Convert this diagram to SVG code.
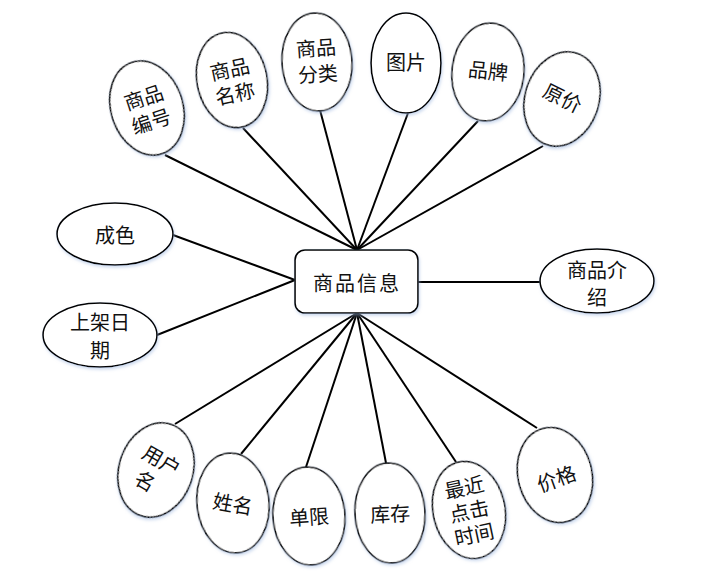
<svg xmlns="http://www.w3.org/2000/svg" width="714" height="584" viewBox="0 0 714 584">
<defs>
<filter id="sh" x="-20%" y="-20%" width="140%" height="140%">
<feDropShadow dx="1" dy="2" stdDeviation="1.5" flood-color="#9fb8e0" flood-opacity="0.5"/>
</filter>
</defs>
<style>
.e{fill:#fff;stroke:#000;stroke-width:1.6;filter:url(#sh)}
.t{font-family:"Noto Sans CJK SC","Noto Sans",sans-serif;font-size:20px;fill:#111;text-anchor:middle;dominant-baseline:central}
.c line{stroke:#000;stroke-width:2}
</style>
<rect width="714" height="584" fill="#fff"/>
<g id="connectors" class="c">
<line x1="165" y1="155" x2="357" y2="250"/>
<line x1="243" y1="128" x2="357" y2="250"/>
<line x1="320" y1="110" x2="357" y2="250"/>
<line x1="408" y1="113" x2="357" y2="250"/>
<line x1="478" y1="121" x2="357" y2="250"/>
<line x1="543" y1="146" x2="357" y2="250"/>
<line x1="173" y1="235" x2="295" y2="280"/>
<line x1="157" y1="335" x2="295" y2="280"/>
<line x1="418" y1="282" x2="540" y2="282"/>
<line x1="175" y1="424" x2="357" y2="313"/>
<line x1="241" y1="454" x2="357" y2="313"/>
<line x1="306" y1="467" x2="357" y2="313"/>
<line x1="386" y1="463" x2="357" y2="313"/>
<line x1="456" y1="462" x2="357" y2="313"/>
<line x1="537" y1="428" x2="357" y2="313"/>
</g>
<g id="center">
<rect x="295" y="250" width="123" height="63" rx="10" class="e"/>
<text x="357" y="282" class="t" letter-spacing="2">商品信息</text>
</g>
<g id="n_bianhao" transform="translate(147,108) rotate(-18)">
<ellipse rx="36" ry="48" class="e"/>
<text y="-12" class="t">商品</text><text y="13" class="t">编号</text>
</g>
<g id="n_mingcheng" transform="translate(232,80) rotate(-12)">
<ellipse rx="35" ry="48" class="e"/>
<text y="-12" class="t">商品</text><text y="13" class="t">名称</text>
</g>
<g id="n_fenlei" transform="translate(317,62) rotate(-4)">
<ellipse rx="35" ry="49" class="e"/>
<text y="-15" class="t">商品</text><text y="11" class="t">分类</text>
</g>
<g id="n_tupian" transform="translate(406,63)">
<ellipse rx="35" ry="50" class="e"/>
<text y="-2" class="t">图片</text>
</g>
<g id="n_pinpai" transform="translate(488,72) rotate(6)">
<ellipse rx="36" ry="49" class="e"/>
<text y="-2" class="t">品牌</text>
</g>
<g id="n_yuanjia" transform="translate(562,99) rotate(18)">
<ellipse rx="37" ry="48" class="e"/>
<text y="-2" class="t" transform="rotate(8)">原价</text>
</g>
<g id="n_chengse" transform="translate(115,234)">
<ellipse rx="58" ry="31" class="e"/>
<text y="0" class="t">成色</text>
</g>
<g id="n_shangjia" transform="translate(100,335)">
<ellipse rx="57" ry="32" class="e"/>
<text y="-14" class="t" font-size="19">上架日</text><text y="14" class="t" font-size="19">期</text>
</g>
<g id="n_jieshao" transform="translate(597,281)">
<ellipse rx="57" ry="32" class="e"/>
<text y="-12" class="t" font-size="19">商品介</text><text y="15" class="t" font-size="19">绍</text>
</g>
<g id="n_yonghu" transform="translate(156,470) rotate(18)">
<ellipse rx="37" ry="48" class="e"/>
<text y="-12" class="t" transform="rotate(12)">用户</text><text y="14" x="-4" class="t" transform="rotate(12)">名</text>
</g>
<g id="n_xingming" transform="translate(233,503) rotate(-6)">
<ellipse rx="36" ry="50" class="e"/>
<text y="0" class="t" transform="rotate(16)">姓名</text>
</g>
<g id="n_danxian" transform="translate(309,516) rotate(-4)">
<ellipse rx="36" ry="49" class="e"/>
<text y="0" class="t">单限</text>
</g>
<g id="n_kucun" transform="translate(390,513) rotate(-3)">
<ellipse rx="35" ry="50" class="e"/>
<text y="0" class="t">库存</text>
</g>
<g id="n_zuijin" transform="translate(469,510) rotate(-12)">
<ellipse rx="36" ry="49" class="e"/>
<text y="-24" class="t">最近</text><text y="0" class="t">点击</text><text y="24" class="t">时间</text>
</g>
<g id="n_jiage" transform="translate(555,475) rotate(-14)">
<ellipse rx="37" ry="48" class="e"/>
<text y="3" class="t" transform="rotate(-6)">价格</text>
</g>
</svg>
